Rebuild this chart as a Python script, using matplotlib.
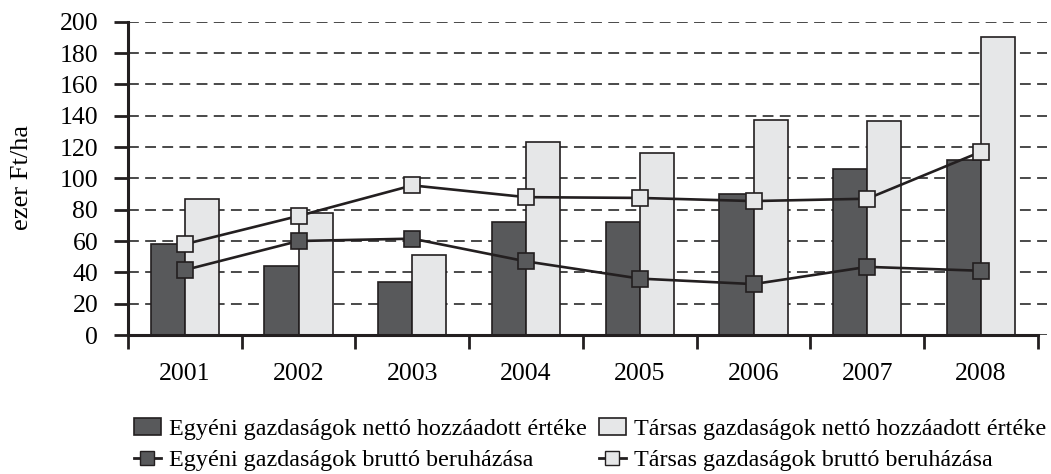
import matplotlib
matplotlib.use("Agg")
import matplotlib.pyplot as plt
import numpy as np
from matplotlib.patches import Patch
from matplotlib.lines import Line2D

years = ["2001", "2002", "2003", "2004", "2005", "2006", "2007", "2008"]
egyeni_netto = [58, 44, 34, 72, 72, 90, 106, 112]
tarsas_netto = [87, 78, 51, 123, 116, 137, 136.5, 190]
egyeni_brutto = [41.5, 60, 61.5, 47, 36, 32.5, 43.5, 41]
tarsas_brutto = [58, 76, 95.5, 88, 87.5, 85.5, 87, 117]

labels = ["Egyéni gazdaságok nettó hozzáadott értéke",
          "Társas gazdaságok nettó hozzáadott értéke",
          "Egyéni gazdaságok bruttó beruházása",
          "Társas gazdaságok bruttó beruházása"]

dark = "#58595b"
light = "#e6e7e8"
edge = "#231f20"

plt.rcParams['font.family'] = ['Liberation Serif', 'DejaVu Serif']

fig = plt.figure(figsize=(10.51, 4.74), dpi=100)
ax = fig.add_axes([128/1051, 1-335/474, (1047-128)/1051, (335-21.7)/474])

x = np.arange(len(years))
w = 0.30
ax.bar(x - w/2, egyeni_netto, w, color=dark, edgecolor=edge, linewidth=1.2, zorder=2)
ax.bar(x + w/2, tarsas_netto, w, color=light, edgecolor=edge, linewidth=1.2, zorder=2)
ax.plot(x, tarsas_brutto, color=edge, lw=1.9, marker='s', ms=11.5, mfc=light, mec=edge, mew=1.2, zorder=4, clip_on=False)
ax.plot(x, egyeni_brutto, color=edge, lw=1.9, marker='s', ms=11.5, mfc=dark, mec=edge, mew=1.2, zorder=4, clip_on=False)

ax.set_xlim(-0.5, 7.58)
ax.set_ylim(0, 200)
ax.set_yticks(range(0, 201, 20))
ax.yaxis.grid(True, color="#3a3a3a", lw=1.3, dashes=(6, 3.5), zorder=1)
ax.set_axisbelow(True)

ax.set_xticks(np.arange(-0.5, 8, 1))
ax.set_xticklabels([])
ax.set_xticks(x, minor=True)
ax.set_xticklabels(years, minor=True, fontsize=18.5)
ax.tick_params(axis='x', which='minor', length=0, pad=20.5)
ax.tick_params(axis='x', which='major', length=10, width=2, color=edge, direction='out')
ax.tick_params(axis='y', length=10, width=2, color=edge, labelsize=18.5, pad=11.5)

for s in ['top', 'right']:
    ax.spines[s].set_visible(False)
ax.spines['left'].set_linewidth(2.2)
ax.spines['bottom'].set_linewidth(2.2)
ax.spines['left'].set_color(edge)
ax.spines['bottom'].set_color(edge)
ax.spines['bottom'].set_bounds(-0.5, 7.5)

ax.set_ylabel("ezer Ft/ha", fontsize=19)
ax.yaxis.set_label_coords((33 - 128) / 919, (335 - 177) / 313.3)

handles = [Patch(facecolor=dark, edgecolor=edge, lw=1.2),
           Line2D([], [], color=edge, lw=2, marker='s', ms=10, mfc=dark, mec=edge),
           Patch(facecolor=light, edgecolor=edge, lw=1.2),
           Line2D([], [], color=edge, lw=2, marker='s', ms=10, mfc=light, mec=edge)]
hlabels = [labels[0], labels[2], labels[1], labels[3]]
fig.legend(handles, hlabels, ncol=2, loc='upper left', bbox_to_anchor=(134/1051, 1-418/474),
           frameon=False, fontsize=17.4, handlelength=1.1, handletextpad=0.35,
           columnspacing=0.5, labelspacing=0.38, borderpad=0, borderaxespad=0)

fig.savefig("out.png", dpi=100)
